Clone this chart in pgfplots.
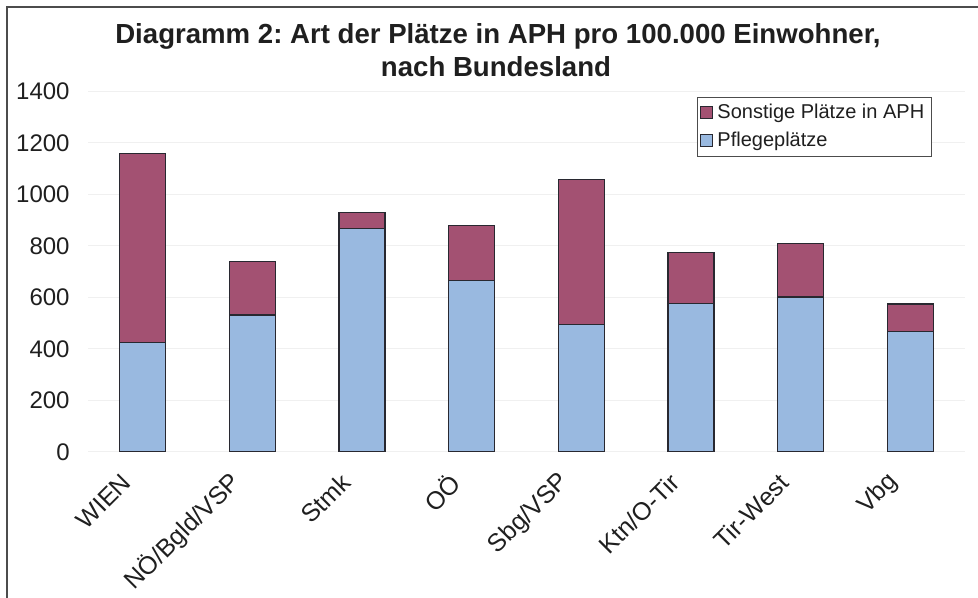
\documentclass[border=0pt]{standalone}
\usepackage{fontspec}
\setmainfont{Liberation Sans}
\usepackage{pgfplots}
\pgfplotsset{compat=1.18}
\definecolor{pflege}{RGB}{153,185,224}
\definecolor{sonst}{RGB}{163,81,114}
\definecolor{edge}{RGB}{40,40,48}
\begin{document}
\frenchspacing
\begin{tikzpicture}
\useasboundingbox (-44pt,-73pt) rectangle (445pt,226pt);
\draw[line width=0.8pt, black!70] (-40.5pt,-80pt) -- (-40.5pt,222.5pt) -- (450pt,222.5pt);
\node[anchor=base, inner sep=0pt, font=\fontsize{13.8}{15}\selectfont\bfseries, text=black!88] at (205pt,204.35pt) {Diagramm 2: Art der Plätze in APH pro 100.000 Einwohner,};
\node[anchor=base, inner sep=0pt, font=\fontsize{13.8}{15}\selectfont\bfseries, text=black!88] at (204pt,187.65pt) {nach Bundesland};
\begin{axis}[
  at={(0,0)}, anchor=south west,
  scale only axis, width=438.5pt, height=180.25pt,
  ybar stacked, bar width=23pt,
  xmin=-0.5, xmax=7.5, ymin=0, ymax=1400,
  ytick={0,200,...,1400},
  xtick={0,...,7},
  xticklabels={WIEN,NÖ/Bgld/VSP,Stmk,OÖ,Sbg/VSP,Ktn/O-Tir,Tir-West,Vbg},
  axis line style={draw=none},
  major tick length=0pt,
  ymajorgrids, major grid style={black!6, line width=0.5pt},
  /pgf/number format/assume math mode=true,
  /pgf/number format/1000 sep={},
  tick label style={font=\fontsize{12}{14}\selectfont, text=black!88},
  yticklabel style={anchor=east, inner sep=0pt, xshift=-9pt},
  xticklabel style={font=\fontsize{12.5}{14}\selectfont, xshift=-8pt, yshift=-13pt, rotate=45, anchor=east, inner sep=0pt},
  legend style={at={(0.6944,0.9856)}, anchor=north west, draw=black!70, line width=0.5pt,
    font=\fontsize{10}{12}\selectfont, inner sep=1.5pt, row sep=1pt, text=black!88},
  legend cell align=left,
  reverse legend,
  legend image code/.code={\draw[#1, draw=edge, line width=0.5pt] (0pt,-3pt) rectangle (6pt,3pt);},
]
\addplot[fill=pflege, draw=edge, line width=0.6pt] coordinates {(0,426) (1,532) (2,867) (3,667) (4,495) (5,576) (6,602) (7,469)};
\addplot[fill=sonst, draw=edge, line width=0.6pt] coordinates {(0,734) (1,209) (2,64) (3,213) (4,564) (5,198) (6,209) (7,106)};
\legend{Pflegeplätze,Sonstige Plätze in APH}
\end{axis}
\end{tikzpicture}
\end{document}
